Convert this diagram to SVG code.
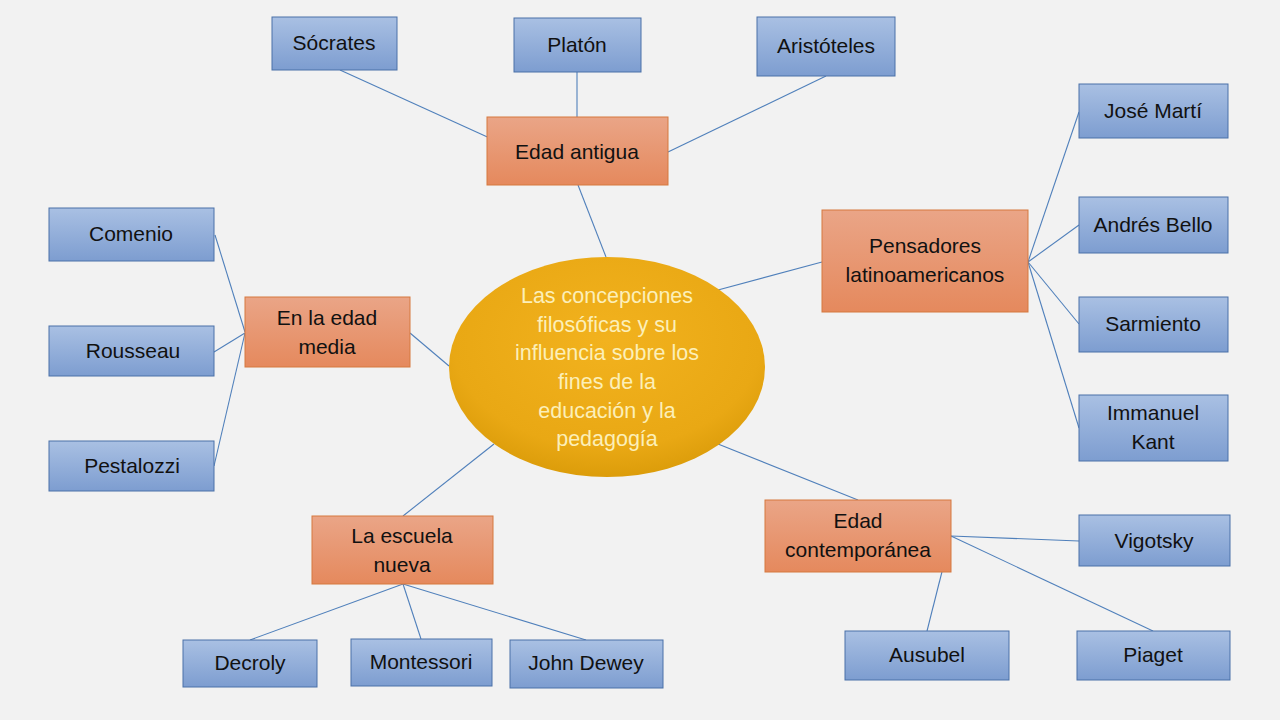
<svg xmlns="http://www.w3.org/2000/svg" width="1280" height="720" viewBox="0 0 1280 720">
<defs>
<linearGradient id="gb" x1="0" y1="0" x2="0" y2="1"><stop offset="0" stop-color="#a9c0e3"/><stop offset="1" stop-color="#7d9dd0"/></linearGradient>
<linearGradient id="go" x1="0" y1="0" x2="0" y2="1"><stop offset="0" stop-color="#eaa587"/><stop offset="1" stop-color="#e5895d"/></linearGradient>
<radialGradient id="ge" cx="0.5" cy="0.38" r="0.65"><stop offset="0" stop-color="#f2b21e"/><stop offset="0.75" stop-color="#e9a814"/><stop offset="1" stop-color="#d99a08"/></radialGradient>
<style>
.b{fill:url(#gb);stroke:#4a70a8;stroke-width:1}
.o{fill:url(#go);stroke:#d5783f;stroke-width:1}
.t{font-family:"Liberation Sans",Arial,sans-serif;font-size:21px;fill:#111;text-anchor:middle}
.w{font-family:"Liberation Sans",Arial,sans-serif;font-size:21.5px;fill:#fcefb8;text-anchor:middle}
.c line{stroke:#5080bb;stroke-width:1.1}
</style>
</defs>
<rect width="1280" height="720" fill="#f2f2f2"/>
<g class="c" id="connectors">
<line x1="340" y1="70" x2="494" y2="140"/>
<line x1="577" y1="72" x2="577" y2="117"/>
<line x1="826" y1="76" x2="668" y2="152"/>
<line x1="578" y1="185" x2="606" y2="257"/>
<line x1="410" y1="333" x2="449" y2="366"/>
<line x1="215" y1="235" x2="245" y2="332"/>
<line x1="214" y1="352" x2="245" y2="333"/>
<line x1="214" y1="466" x2="245" y2="333"/>
<line x1="822" y1="262" x2="718" y2="290"/>
<line x1="1079" y1="112" x2="1028" y2="262"/>
<line x1="1079" y1="225" x2="1028" y2="262"/>
<line x1="1079" y1="324" x2="1028" y2="262"/>
<line x1="1079" y1="428" x2="1028" y2="262"/>
<line x1="718" y1="444" x2="858" y2="500"/>
<line x1="951" y1="536" x2="1079" y2="541"/>
<line x1="951" y1="536" x2="1153" y2="631"/>
<line x1="951" y1="536" x2="927" y2="631"/>
<line x1="494" y1="444" x2="403" y2="516"/>
<line x1="403" y1="584" x2="250" y2="640"/>
<line x1="403" y1="584" x2="421" y2="639"/>
<line x1="403" y1="584" x2="586" y2="640"/>
</g>
<g id="center"><ellipse cx="607" cy="367" rx="158" ry="110" fill="url(#ge)"/>
<text class="w" x="607" y="303">Las concepciones</text>
<text class="w" x="607" y="332">filosóficas y su</text>
<text class="w" x="607" y="360">influencia sobre los</text>
<text class="w" x="607" y="389">fines de la</text>
<text class="w" x="607" y="418">educación y la</text>
<text class="w" x="607" y="446">pedagogía</text></g>
<g id="antigua"><rect class="o" x="487" y="117" width="181" height="68"/><text class="t" x="577" y="159">Edad antigua</text></g>
<g id="latinos"><rect class="o" x="822" y="210" width="206" height="102"/><text class="t" x="925" y="253">Pensadores</text><text class="t" x="925" y="282">latinoamericanos</text></g>
<g id="media"><rect class="o" x="245" y="297" width="165" height="70"/><text class="t" x="327" y="325">En la edad</text><text class="t" x="327" y="354">media</text></g>
<g id="escuela"><rect class="o" x="312" y="516" width="181" height="68"/><text class="t" x="402" y="543">La escuela</text><text class="t" x="402" y="572">nueva</text></g>
<g id="contemporanea"><rect class="o" x="765" y="500" width="186" height="72"/><text class="t" x="858" y="528">Edad</text><text class="t" x="858" y="557">contemporánea</text></g>
<g id="socrates"><rect class="b" x="272" y="17" width="125" height="53"/><text class="t" x="334" y="50">Sócrates</text></g>
<g id="platon"><rect class="b" x="514" y="18" width="127" height="54"/><text class="t" x="577" y="52">Platón</text></g>
<g id="aristoteles"><rect class="b" x="757" y="17" width="138" height="59"/><text class="t" x="826" y="53">Aristóteles</text></g>
<g id="marti"><rect class="b" x="1079" y="84" width="149" height="54"/><text class="t" x="1153" y="118">José Martí</text></g>
<g id="bello"><rect class="b" x="1079" y="197" width="149" height="56"/><text class="t" x="1153" y="232">Andrés Bello</text></g>
<g id="sarmiento"><rect class="b" x="1079" y="297" width="149" height="55"/><text class="t" x="1153" y="331">Sarmiento</text></g>
<g id="kant"><rect class="b" x="1079" y="395" width="149" height="66"/><text class="t" x="1153" y="420">Immanuel</text><text class="t" x="1153" y="449">Kant</text></g>
<g id="comenio"><rect class="b" x="49" y="208" width="165" height="53"/><text class="t" x="131" y="241">Comenio</text></g>
<g id="rousseau"><rect class="b" x="49" y="326" width="165" height="50"/><text class="t" x="133" y="358">Rousseau</text></g>
<g id="pestalozzi"><rect class="b" x="49" y="441" width="165" height="50"/><text class="t" x="132" y="473">Pestalozzi</text></g>
<g id="decroly"><rect class="b" x="183" y="640" width="134" height="47"/><text class="t" x="250" y="670">Decroly</text></g>
<g id="montessori"><rect class="b" x="351" y="639" width="141" height="47"/><text class="t" x="421" y="669">Montessori</text></g>
<g id="dewey"><rect class="b" x="510" y="640" width="153" height="48"/><text class="t" x="586" y="670">John Dewey</text></g>
<g id="vigotsky"><rect class="b" x="1079" y="515" width="151" height="51"/><text class="t" x="1154" y="548">Vigotsky</text></g>
<g id="ausubel"><rect class="b" x="845" y="631" width="164" height="49"/><text class="t" x="927" y="662">Ausubel</text></g>
<g id="piaget"><rect class="b" x="1077" y="631" width="153" height="49"/><text class="t" x="1153" y="662">Piaget</text></g>
</svg>
